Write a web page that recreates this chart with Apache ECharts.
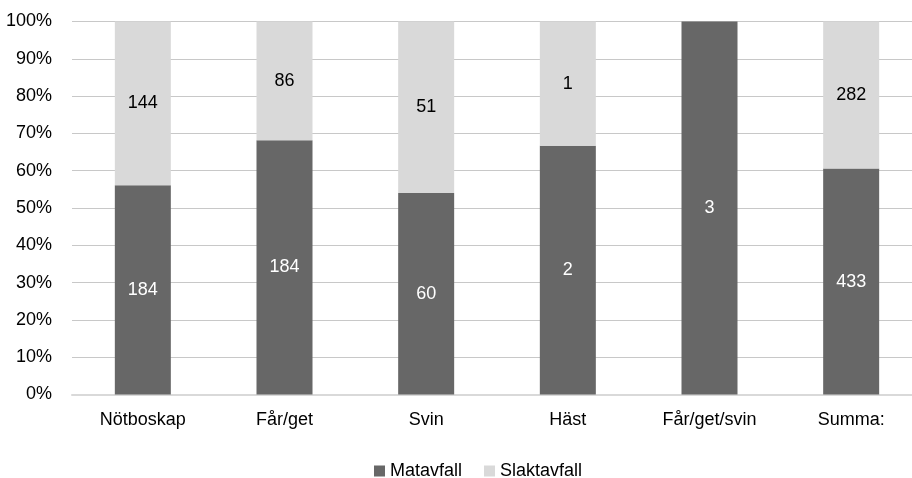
<!DOCTYPE html>
<html><head><meta charset="utf-8">
<script src="https://cdn.jsdelivr.net/npm/echarts@6/dist/echarts.min.js"></script>
<style>html,body{margin:0;padding:0;background:#fff;overflow:hidden;width:912px;height:478px}#c{width:922px;height:478px}</style>
</head><body><div id="c"></div>
<script>
const categories = ['Nötboskap', 'Får/get', 'Svin', 'Häst', 'Får/get/svin', 'Summa:'];
const matavfall = [184, 184, 60, 2, 3, 433];
const slaktavfall = [144, 86, 51, 1, 0, 282];
const yTicks = ['0%','10%','20%','30%','40%','50%','60%','70%','80%','90%','100%'];

const FONT = '"Liberation Sans", Arial, sans-serif';
const totals = categories.map((_, i) => matavfall[i] + slaktavfall[i]);
const pct = (arr) => arr.map((v, i) => ({ value: v / totals[i] * 100, raw: v }));

const chart = echarts.init(document.getElementById('c'));
chart.setOption({
  animation: false,
  grid: { left: 72, top: 21.5, width: 850, height: 373, containLabel: false },
  legend: {
    top: 457, left: 369, itemWidth: 11, itemHeight: 11, itemGap: 22,
    icon: 'rect',
    textStyle: { fontFamily: FONT, fontSize: 18, color: '#000' },
    data: ['Matavfall', 'Slaktavfall']
  },
  xAxis: {
    type: 'category', data: categories,
    axisLine: { show: true, lineStyle: { color: '#d9d9d9', width: 2 } },
    axisTick: { show: false },
    axisLabel: { fontFamily: FONT, fontSize: 18, color: '#000', margin: 17 }
  },
  yAxis: {
    type: 'value', min: 0, max: 100, interval: 10,
    axisLine: { show: false }, axisTick: { show: false },
    splitLine: { lineStyle: { color: '#c8c8c8', width: 1 } },
    axisLabel: { fontFamily: FONT, fontSize: 18, color: '#000', margin: 20,
      formatter: (v) => yTicks[Math.round(v / 10)] }
  },
  series: [
    { name: 'Matavfall', type: 'bar', stack: 's', barWidth: 56,
      itemStyle: { color: '#676767' },
      label: { show: true, position: 'inside', color: '#fff', fontFamily: FONT, fontSize: 18,
        formatter: (p) => p.data.raw ? String(p.data.raw) : '' },
      data: pct(matavfall) },
    { name: 'Slaktavfall', type: 'bar', stack: 's', barWidth: 56,
      itemStyle: { color: '#d9d9d9' },
      label: { show: true, position: 'inside', color: '#000', fontFamily: FONT, fontSize: 18,
        formatter: (p) => p.data.raw ? String(p.data.raw) : '' },
      data: pct(slaktavfall) }
  ]
});
</script></body></html>
